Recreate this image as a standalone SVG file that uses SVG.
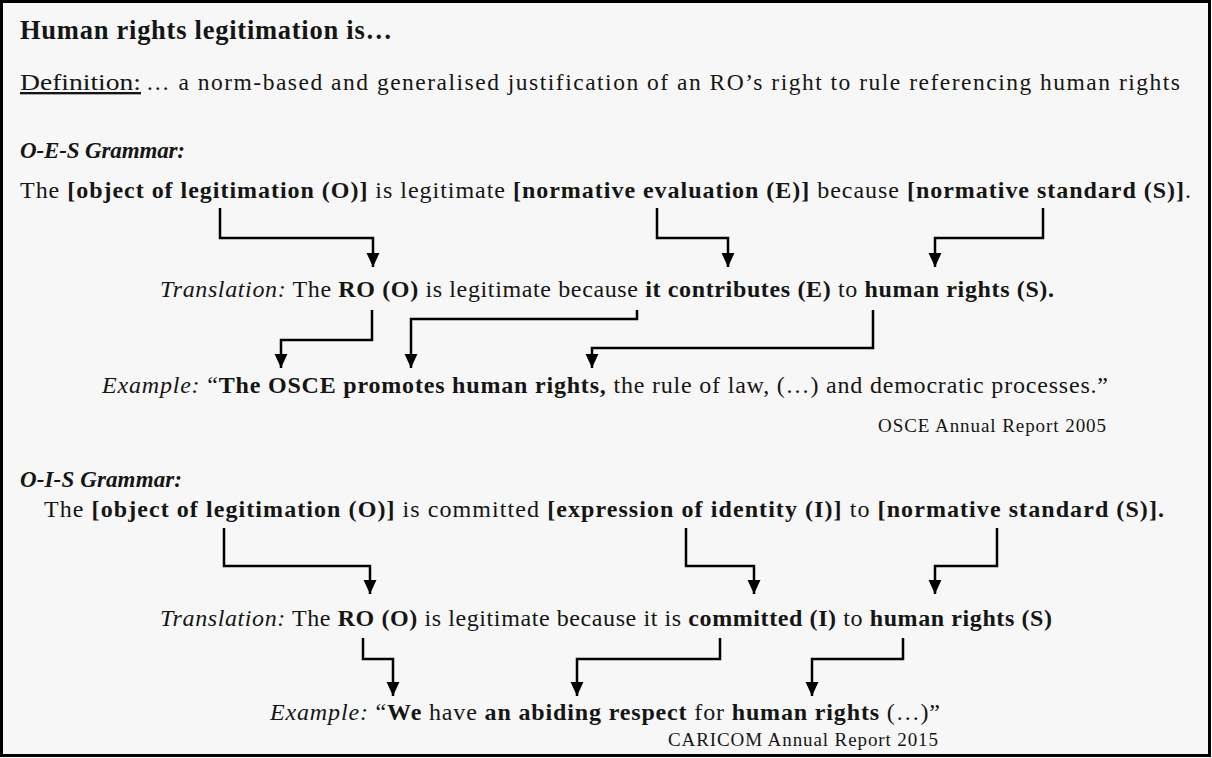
<svg xmlns="http://www.w3.org/2000/svg" width="1212" height="758" viewBox="0 0 1212 758">
<style>
text{font-family:"Liberation Serif","Times New Roman",serif;fill:#151515;}
.b{font-weight:bold;}
.i{font-style:italic;}
.main{font-size:24px;}
.src{font-size:19px;}
.arr{fill:none;stroke:#000;stroke-width:2.5;marker-end:url(#ah);}
</style>
<defs>
<marker id="ah" markerUnits="userSpaceOnUse" markerWidth="15" markerHeight="15" viewBox="0 0 14 12" refX="13" refY="6" orient="auto">
<path d="M0,0 L13,6 L0,12 z" fill="#000"/>
</marker>
</defs>
<rect x="1.5" y="1.5" width="1208" height="754" fill="#f7f7f7" stroke="#000" stroke-width="3"/>
<g id="title"><text x="20" y="39" class="b" font-size="26.5" textLength="372" lengthAdjust="spacing">Human rights legitimation is…</text></g>
<g id="definition">
<text x="20" y="90" font-size="23.5" text-decoration="underline" textLength="121" lengthAdjust="spacingAndGlyphs">Definition:</text>
<text x="146" y="90" font-size="23.5" textLength="1034" lengthAdjust="spacing">… a norm-based and generalised justification of an RO’s right to rule referencing human rights</text>
</g>
<g id="oes-heading"><text x="20" y="158" class="b i" font-size="23" textLength="165" lengthAdjust="spacing">O-E-S Grammar:</text></g>
<g id="oes-grammar"><text x="20" y="198" class="main" textLength="1171" lengthAdjust="spacing">The <tspan class="b">[object of legitimation (O)]</tspan> is legitimate <tspan class="b">[normative evaluation (E)]</tspan> because <tspan class="b">[normative standard (S)]</tspan>.</text></g>
<g id="oes-translation"><text x="160" y="297" class="main" textLength="894" lengthAdjust="spacing"><tspan class="i">Translation:</tspan> The <tspan class="b">RO (O)</tspan> is legitimate because <tspan class="b">it contributes (E)</tspan> to <tspan class="b">human rights (S).</tspan></text></g>
<g id="oes-example"><text x="102" y="393" class="main" textLength="1006" lengthAdjust="spacing"><tspan class="i">Example:</tspan> “<tspan class="b">The OSCE promotes human rights,</tspan> the rule of law, (…) and democratic processes.”</text></g>
<g id="oes-source"><text x="1106" y="432" class="src" text-anchor="end" textLength="228" lengthAdjust="spacing">OSCE Annual Report 2005</text></g>
<g id="ois-heading"><text x="20" y="487" class="b i" font-size="23" textLength="162" lengthAdjust="spacing">O-I-S Grammar:</text></g>
<g id="ois-grammar"><text x="44" y="517" class="main" textLength="1120" lengthAdjust="spacing">The <tspan class="b">[object of legitimation (O)]</tspan> is committed <tspan class="b">[expression of identity (I)]</tspan> to <tspan class="b">[normative standard (S)].</tspan></text></g>
<g id="ois-translation"><text x="160" y="626" class="main" textLength="892" lengthAdjust="spacing"><tspan class="i">Translation:</tspan> The <tspan class="b">RO (O)</tspan> is legitimate because it is <tspan class="b">committed (I)</tspan> to <tspan class="b">human rights (S)</tspan></text></g>
<g id="ois-example"><text x="270" y="720" class="main" textLength="670" lengthAdjust="spacing"><tspan class="i">Example:</tspan> “<tspan class="b">We</tspan> have <tspan class="b">an abiding respect</tspan> for <tspan class="b">human rights</tspan> (…)”</text></g>
<g id="ois-source"><text x="938" y="746" class="src" text-anchor="end" textLength="270" lengthAdjust="spacing">CARICOM Annual Report 2015</text></g>
<g id="connectors">
<path class="arr" d="M220,208 V238 H373 V267"/>
<path class="arr" d="M657,208 V238 H728 V267"/>
<path class="arr" d="M1043,208 V238 H935 V267"/>
<path class="arr" d="M372,310 V340 H281 V368"/>
<path class="arr" d="M637,310 V319 H411 V368"/>
<path class="arr" d="M873,310 V348 H592 V368"/>
<path class="arr" d="M224,528 V566 H370 V594"/>
<path class="arr" d="M686,528 V566 H754 V594"/>
<path class="arr" d="M997,528 V566 H935 V594"/>
<path class="arr" d="M363,638 V659 H393 V696"/>
<path class="arr" d="M720,638 V659 H577 V696"/>
<path class="arr" d="M903,638 V659 H812 V696"/>
</g>
</svg>
